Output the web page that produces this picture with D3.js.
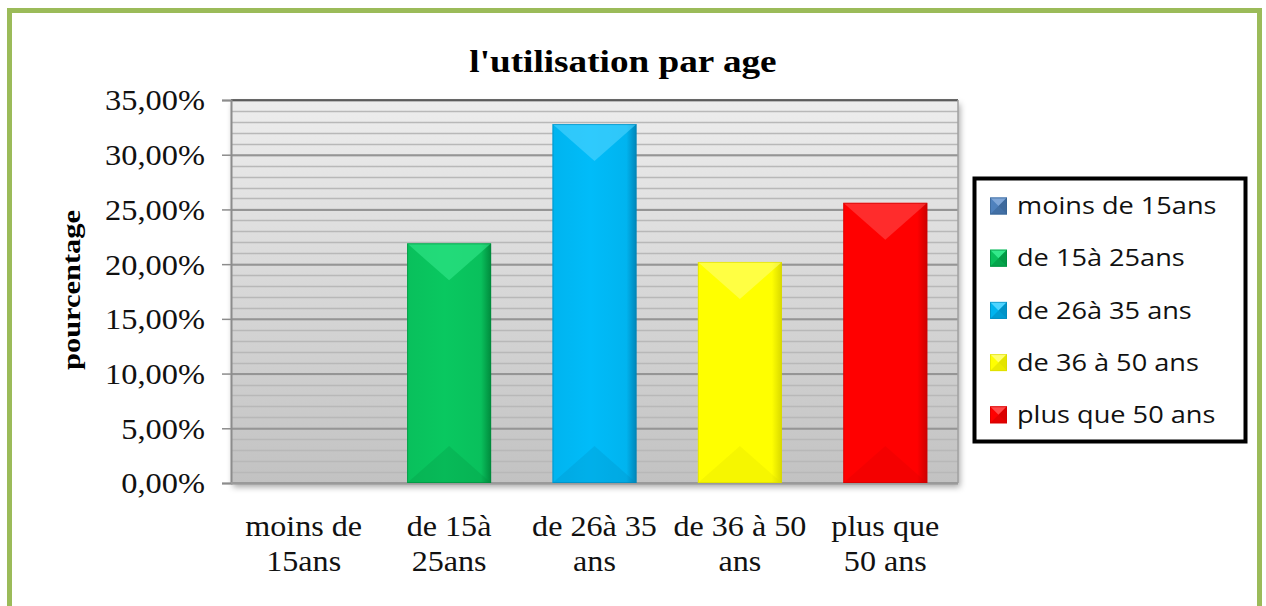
<!DOCTYPE html>
<html>
<head>
<meta charset="utf-8">
<script src="https://cdn.jsdelivr.net/npm/d3@7"></script>
<style>
  body { margin: 0; background: #fff; }
  svg { display: block; }
</style>
</head>
<body>
<svg id="chart" width="1266" height="606"></svg>
<script>
// data
const categories = ["moins de 15ans", "de 15à 25ans", "de 26à 35 ans", "de 36 à 50 ans", "plus que 50 ans"];
const values = [0, 0.219, 0.328, 0.202, 0.256];
const xLabelLines = [["moins de", "15ans"], ["de 15à", "25ans"], ["de 26à 35", "ans"], ["de 36 à 50", "ans"], ["plus que", "50 ans"]];
const yTicks = [0, 0.05, 0.10, 0.15, 0.20, 0.25, 0.30, 0.35];
const minorTicks = d3.range(0, 0.3501, 0.01);

const title = "l'utilisation par age";
const yTitle = "pourcentage";

// palette: [main, light, dark]
const palette = [
  ["#4f81bd", "#7fa6d8", "#36608f"],
  ["#09c05c", "#33e88a", "#008a3c"],
  ["#00b4ef", "#4fd4ff", "#0085b8"],
  ["#ffff00", "#ffff70", "#d8d800"],
  ["#ff0000", "#ff4a4a", "#cc0000"]
];

const serif = "'Liberation Serif', 'Times New Roman', serif";
const sans = "'Open Sans', 'Liberation Sans', sans-serif";

// the source picture is a bit wider than tall, widen text to match
function stretch(sel, k) {
  sel.each(function () {
    const len = this.getComputedTextLength();
    d3.select(this).attr("textLength", len * k).attr("lengthAdjust", "spacingAndGlyphs");
  });
}

const svg = d3.select("#chart");
const defs = svg.append("defs");

// outer green frame
svg.append("rect")
  .attr("x", 9.5).attr("y", 10.5)
  .attr("width", 1250).attr("height", 640)
  .attr("fill", "#fff")
  .attr("stroke", "#9bbb59")
  .attr("stroke-width", 5);

const plot = { left: 231, right: 958, top: 100, bottom: 483 };

const x = d3.scaleBand()
  .domain(categories)
  .range([plot.left, plot.right])
  .paddingInner(0.422)
  .paddingOuter(0.211);

const y = d3.scaleLinear()
  .domain([0, 0.35])
  .range([plot.bottom, plot.top]);

// plot background gradient + shadow
const bgGrad = defs.append("linearGradient")
  .attr("id", "bg").attr("x1", 0).attr("y1", 0).attr("x2", 0).attr("y2", 1);
bgGrad.append("stop").attr("offset", "0%").attr("stop-color", "#ededed");
bgGrad.append("stop").attr("offset", "100%").attr("stop-color", "#c2c2c2");

const shadow = defs.append("filter").attr("id", "shadow")
  .attr("x", "-5%").attr("y", "-5%").attr("width", "110%").attr("height", "115%");
shadow.append("feDropShadow")
  .attr("dx", 2).attr("dy", 4).attr("stdDeviation", 3)
  .attr("flood-color", "#000").attr("flood-opacity", 0.35);

svg.append("rect")
  .attr("x", plot.left).attr("y", plot.top)
  .attr("width", plot.right - plot.left).attr("height", plot.bottom - plot.top)
  .attr("fill", "url(#bg)")
  .attr("filter", "url(#shadow)");

// minor grid lines
svg.append("g")
  .selectAll("line")
  .data(minorTicks)
  .join("line")
  .attr("x1", plot.left).attr("x2", plot.right)
  .attr("y1", d => Math.round(y(d)) + 0.5)
  .attr("y2", d => Math.round(y(d)) + 0.5)
  .attr("stroke", "#b8b8b8")
  .attr("stroke-width", 1.5);

// major grid lines
svg.append("g")
  .call(d3.axisLeft(y).tickValues(yTicks).tickSize(-(plot.right - plot.left)).tickFormat(() => ""))
  .attr("transform", `translate(${plot.left},0)`)
  .call(g => g.select(".domain").remove())
  .selectAll("line")
  .attr("stroke", "#959595")
  .attr("stroke-width", 2);

// plot frame lines
svg.append("line")
  .attr("x1", plot.left).attr("x2", plot.right)
  .attr("y1", plot.top).attr("y2", plot.top)
  .attr("stroke", "#4a4a4a").attr("stroke-width", 1.5);
svg.append("line")
  .attr("x1", plot.right).attr("x2", plot.right)
  .attr("y1", plot.top).attr("y2", plot.bottom)
  .attr("stroke", "#a0a0a0").attr("stroke-width", 1.5);

// y axis
const fmt = d => (d * 100).toFixed(2).replace(".", ",") + "%";
const yAxis = svg.append("g")
  .attr("transform", `translate(${plot.left},0)`)
  .call(d3.axisLeft(y).tickValues(yTicks).tickSize(9).tickPadding(17).tickFormat(fmt));
yAxis.select(".domain").attr("stroke", "#8c8c8c").attr("stroke-width", 2);
yAxis.selectAll(".tick line").attr("stroke", "#8c8c8c").attr("stroke-width", 1.5);
yAxis.selectAll("text")
  .attr("fill", "#111")
  .style("font-family", serif)
  .style("font-size", "30px")
  .attr("dy", "0.33em")
  .call(stretch, 1.08);

// bottom axis line
svg.append("line")
  .attr("x1", plot.left).attr("x2", plot.right)
  .attr("y1", plot.bottom).attr("y2", plot.bottom)
  .attr("stroke", "#9a9a9a").attr("stroke-width", 2);

// bar gradients
palette.forEach((c, i) => {
  const g = defs.append("linearGradient")
    .attr("id", "bar" + i).attr("x1", 0).attr("y1", 0).attr("x2", 1).attr("y2", 0);
  g.append("stop").attr("offset", "0%").attr("stop-color", c[0]);
  g.append("stop").attr("offset", "45%").attr("stop-color", d3.color(c[0]).brighter(0.12));
  g.append("stop").attr("offset", "88%").attr("stop-color", c[0]);
  g.append("stop").attr("offset", "100%").attr("stop-color", c[2]);
});

// bars
const bars = svg.append("g")
  .selectAll("g")
  .data(categories.map((c, i) => ({ c, v: values[i], i })).filter(d => d.v > 0))
  .join("g");

bars.each(function (d) {
  const g = d3.select(this);
  const x0 = x(d.c), x1 = x0 + x.bandwidth(), xc = x0 + x.bandwidth() / 2;
  const y0 = y(d.v), yb = y(0);
  const h = Math.min(x.bandwidth() * 0.44, (yb - y0) / 2);
  const col = palette[d.i];

  g.append("rect")
    .attr("x", x0).attr("y", y0)
    .attr("width", x1 - x0).attr("height", yb - y0)
    .attr("fill", `url(#bar${d.i})`);

  g.append("polygon")
    .attr("points", [[x0, y0], [x1, y0], [xc, y0 + h]].join(" "))
    .attr("fill", col[1]).attr("opacity", 0.6);

  g.append("polygon")
    .attr("points", [[x0, yb], [x1, yb], [xc, yb - h]].join(" "))
    .attr("fill", col[2]).attr("opacity", 0.22);

  g.append("rect")
    .attr("x", x0 + 0.5).attr("y", y0 + 0.5)
    .attr("width", x1 - x0 - 1).attr("height", yb - y0 - 1)
    .attr("fill", "none")
    .attr("stroke", col[2]).attr("stroke-opacity", 0.6);
});

// x labels, one text per line
const xLab = svg.append("g")
  .selectAll("g")
  .data(categories)
  .join("g");
xLab.selectAll("text")
  .data((d, i) => xLabelLines[i].map(t => ({ t, cx: x(d) + x.bandwidth() / 2 })))
  .join("text")
  .attr("x", d => d.cx)
  .attr("y", (d, j) => 536 + j * 35)
  .attr("text-anchor", "middle")
  .attr("fill", "#111")
  .style("font-family", serif)
  .style("font-size", "30px")
  .text(d => d.t)
  .call(stretch, 1.07);

// title
svg.append("text")
  .attr("x", 623).attr("y", 72)
  .attr("text-anchor", "middle")
  .attr("fill", "#000")
  .style("font-family", serif)
  .style("font-weight", "bold")
  .style("font-size", "31px")
  .text(title)
  .call(stretch, 1.2);

// y title
svg.append("text")
  .attr("transform", "translate(80,290) rotate(-90)")
  .attr("text-anchor", "middle")
  .attr("fill", "#000")
  .style("font-family", serif)
  .style("font-weight", "bold")
  .style("font-size", "26px")
  .text(yTitle)
  .call(stretch, 1.17);

// legend
const legend = svg.append("g");
legend.append("rect")
  .attr("x", 974.5).attr("y", 178.5)
  .attr("width", 271).attr("height", 263)
  .attr("fill", "#fff")
  .attr("stroke", "#000")
  .attr("stroke-width", 4);

const item = legend.selectAll("g.item")
  .data(categories)
  .join("g")
  .attr("class", "item")
  .attr("transform", (d, i) => `translate(990, ${206 + i * 52.2})`);

item.each(function (d, i) {
  const g = d3.select(this);
  const s = 17, col = palette[i];
  const top = -s / 2;
  g.append("rect").attr("x", 0).attr("y", top).attr("width", s).attr("height", s).attr("fill", col[0]);
  g.append("polygon").attr("points", [[0, top], [s, top], [s / 2, 0]].join(" ")).attr("fill", col[1]);
  g.append("polygon").attr("points", [[s, top], [s, -top], [s / 2, 0]].join(" ")).attr("fill", col[2]).attr("opacity", 0.7);
  g.append("polygon").attr("points", [[0, -top], [s, -top], [s / 2, 0]].join(" ")).attr("fill", col[2]).attr("opacity", 0.5);
  g.append("rect").attr("x", 0.5).attr("y", top + 0.5).attr("width", s - 1).attr("height", s - 1)
    .attr("fill", "none").attr("stroke", col[2]).attr("stroke-opacity", 0.6);
});

item.append("text")
  .attr("x", 27)
  .attr("y", 0)
  .attr("dy", "0.36em")
  .attr("fill", "#111")
  .style("font-family", sans)
  .style("font-size", "23px")
  .text(d => d)
  .call(stretch, 1.18);
</script>
</body>
</html>
